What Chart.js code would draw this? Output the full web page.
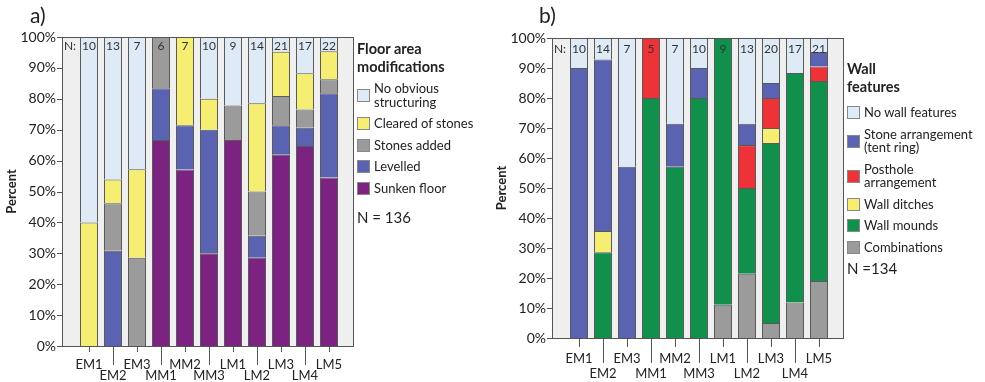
<!DOCTYPE html>
<html>
<head>
<meta charset="utf-8">
<title>Floor area modifications and wall features</title>
<script src="https://cdn.jsdelivr.net/npm/chart.js@4/dist/chart.umd.min.js"></script>
<style>
  body { margin: 0; background: #fff; font-family: Lato, "Open Sans", sans-serif; color: #222; }
  .panel { position: absolute; top: 0; height: 382px; }
  #panelA { left: 0; width: 490px; }
  #panelB { left: 490px; width: 495px; }
  .tag { position: absolute; top: 2px; font-size: 21px; line-height: 26px; }
  .legTitle { position: absolute; left: 357px; font-weight: bold; font-size: 14.5px; line-height: 18px; }
  .legItems { position: absolute; left: 357px; }
  .legItem { display: flex; align-items: center; margin-bottom: 8px; font-size: 13px; line-height: 13.5px; }
  .legBox { width: 11px; height: 11px; border: 1px solid #888; margin-right: 4px; flex: none; }
  .legNote { position: absolute; left: 357px; font-size: 15px; line-height: 18px; }
</style>
</head>
<body>
<div class="panel" id="panelA">
  <canvas id="chartA" width="490" height="382"></canvas>
  <div class="tag" style="left:30px">a)</div>
  <div class="legTitle" style="top:40px">Floor area<br>modifications</div>
  <div class="legItems" id="legendA" style="top:82px"></div>
  <div class="legNote" style="top:208px">N = 136</div>
</div>
<div class="panel" id="panelB">
  <canvas id="chartB" width="495" height="382"></canvas>
  <div class="tag" style="left:49px">b)</div>
  <div class="legTitle" style="top:60px">Wall<br>features</div>
  <div class="legItems" id="legendB" style="top:106px"></div>
  <div class="legNote" style="top:259px">N =134</div>
</div>

<script>
var categories = ['EM1', 'EM2', 'EM3', 'MM1', 'MM2', 'MM3', 'LM1', 'LM2', 'LM3', 'LM4', 'LM5'];
var yTicks = [0, 10, 20, 30, 40, 50, 60, 70, 80, 90, 100];

// a) floor area modifications, percent per phase (bottom to top)
var floorN = [10, 13, 7, 6, 7, 10, 9, 14, 21, 17, 22];
var sunkenFloor = [0, 0, 0, 66.7, 57.1, 30, 66.7, 28.6, 61.9, 64.7, 54.5];
var levelled = [0, 30.8, 0, 16.7, 14.3, 40, 0, 7.1, 9.5, 5.9, 27.3];
var stonesAdded = [0, 15.4, 28.6, 16.6, 0, 0, 11.1, 14.3, 9.5, 5.9, 4.5];
var clearedStones = [40, 7.7, 28.6, 0, 28.6, 10, 0, 28.6, 14.3, 11.8, 9.1];
var noStructuring = [60, 46.1, 42.8, 0, 0, 20, 22.2, 21.4, 4.8, 11.7, 4.6];

// b) wall features, percent per phase (bottom to top)
var wallN = [10, 14, 7, 5, 7, 10, 9, 13, 20, 17, 21];
var combinations = [0, 0, 0, 0, 0, 0, 11.1, 21.4, 5, 11.8, 19];
var wallMounds = [0, 28.6, 0, 80, 57.1, 80, 88.9, 28.6, 60, 76.5, 66.7];
var wallDitches = [0, 7.1, 0, 0, 0, 0, 0, 0, 5, 0, 0];
var posthole = [0, 0, 0, 20, 0, 0, 0, 14.3, 10, 0, 4.8];
var stoneRing = [90, 57.1, 57.1, 0, 14.3, 10, 0, 7.1, 5, 0, 4.8];
var noWallFeatures = [10, 7.2, 42.9, 0, 28.6, 10, 0, 28.6, 15, 11.7, 4.7];

var LIGHT = '#dfeaf7', YELLOW = '#f6ee73', GREY = '#9b9b9b', BLUE = '#5a62b2',
    PURPLE = '#7c2280', RED = '#ee3338', GREEN = '#10904a';

// frame, axis ticks and N labels drawn around the chart area
var framePlugin = {
  id: 'frame',
  beforeDraw: function (chart, args, o) {
    var ctx = chart.ctx, a = chart.chartArea;
    ctx.save();
    ctx.fillStyle = '#efefef';
    ctx.fillRect(a.left - o.padL, a.top, a.right - a.left + o.padL + o.padR, a.bottom - a.top);
    ctx.restore();
  },
  afterDatasetsDraw: function (chart, args, o) {
    var ctx = chart.ctx, a = chart.chartArea;
    var l = a.left - o.padL, r = a.right + o.padR;
    ctx.save();
    ctx.strokeStyle = '#555';
    ctx.lineWidth = 1;
    ctx.strokeRect(l + 0.5, a.top + 0.5, r - l, a.bottom - a.top);
    ctx.beginPath();
    chart.scales.y.ticks.forEach(function (t) {
      var y = Math.round(chart.scales.y.getPixelForValue(t.value)) + 0.5;
      ctx.moveTo(l - 5, y); ctx.lineTo(l, y);
    });
    categories.forEach(function (c, i) {
      var x = Math.round(chart.scales.x.getPixelForTick(i)) + 0.5;
      ctx.moveTo(x, a.bottom); ctx.lineTo(x, a.bottom + (i % 2 ? o.longTick : o.shortTick));
    });
    ctx.stroke();
    ctx.fillStyle = '#333';
    ctx.font = '12px Lato, sans-serif';
    ctx.textAlign = 'center';
    ctx.textBaseline = 'middle';
    ctx.fillText('N:', a.left - 7, a.top + o.nY);
    o.counts.forEach(function (n, i) {
      ctx.fillText(String(n), chart.scales.x.getPixelForTick(i), a.top + o.nY);
    });
    ctx.restore();
  }
};

function makeLegend(id, series) {
  var box = document.getElementById(id);
  series.slice().reverse().forEach(function (s) {
    var row = document.createElement('div');
    row.className = 'legItem';
    row.innerHTML = '<div class="legBox" style="background:' + s.color + '"></div><div>' + s.legend + '</div>';
    box.appendChild(row);
  });
}

function makeChart(id, series, o) {
  return new Chart(document.getElementById(id), {
    type: 'bar',
    data: {
      labels: categories.map(function (c, i) { return i % 2 ? ['', c] : c; }),
      datasets: series.map(function (s) {
        return {
          label: s.label,
          data: s.data.map(function (v) { return v === 0 ? null : v; }),
          backgroundColor: s.color,
          borderColor: '#5a5a5a',
          borderWidth: { top: 1, left: 1, right: 1, bottom: 0 },
          borderSkipped: false,
          barPercentage: 0.75, categoryPercentage: 1
        };
      })
    },
    options: {
      responsive: false,
      animation: false,
      layout: { padding: { left: 0, top: o.top, right: o.right, bottom: 0 } },
      plugins: {
        legend: { display: false },
        tooltip: { enabled: false },
        frame: { padL: 15, padR: 12, shortTick: o.shortTick, longTick: o.longTick, counts: o.counts, nY: o.nY }
      },
      scales: {
        x: {
          stacked: true,
          grid: { display: false, drawTicks: false },
          border: { display: false },
          afterFit: function (s) { s.height = o.xHeight; },
          ticks: {
            autoSkip: false, maxRotation: 0, minRotation: 0,
            padding: o.xPad, color: '#222',
            font: { family: 'Lato', size: 13, lineHeight: o.xLine }
          }
        },
        y: {
          stacked: true, min: 0, max: 100,
          afterBuildTicks: function (s) { s.ticks = yTicks.map(function (v) { return { value: v }; }); },
          afterFit: function (s) { s.width = 77; },
          grid: { display: false, drawTicks: false },
          border: { display: false },
          ticks: {
            padding: 21, color: '#222',
            font: { family: 'Lato', size: 14 },
            callback: function (v) { return v + '%'; }
          },
          title: { display: true, text: 'Percent', color: '#222', font: { family: 'Lato', size: 13, weight: 'bold' } }
        }
      }
    },
    plugins: [framePlugin]
  });
}

var floorSeries = [
  { label: 'Sunken floor', legend: 'Sunken floor', data: sunkenFloor, color: PURPLE },
  { label: 'Levelled', legend: 'Levelled', data: levelled, color: BLUE },
  { label: 'Stones added', legend: 'Stones added', data: stonesAdded, color: GREY },
  { label: 'Cleared of stones', legend: 'Cleared of stones', data: clearedStones, color: YELLOW },
  { label: 'No obvious structuring', legend: 'No obvious<br>structuring', data: noStructuring, color: LIGHT }
];
var wallSeries = [
  { label: 'Combinations', legend: 'Combinations', data: combinations, color: GREY },
  { label: 'Wall mounds', legend: 'Wall mounds', data: wallMounds, color: GREEN },
  { label: 'Wall ditches', legend: 'Wall ditches', data: wallDitches, color: YELLOW },
  { label: 'Posthole arrangement', legend: 'Posthole<br>arrangement', data: posthole, color: RED },
  { label: 'Stone arrangement (tent ring)', legend: 'Stone arrangement<br>(tent ring)', data: stoneRing, color: BLUE },
  { label: 'No wall features', legend: 'No wall features', data: noWallFeatures, color: LIGHT }
];

makeLegend('legendA', floorSeries);
makeLegend('legendB', wallSeries);

makeChart('chartA', floorSeries, { top: 37, right: 149, xHeight: 36, xPad: 13, xLine: 0.85, shortTick: 6, longTick: 19, counts: floorN, nY: 9 });
makeChart('chartB', wallSeries, { top: 38, right: 154, xHeight: 44, xPad: 13, xLine: 1.15, shortTick: 9, longTick: 25, counts: wallN, nY: 11 });
</script>
</body>
</html>
